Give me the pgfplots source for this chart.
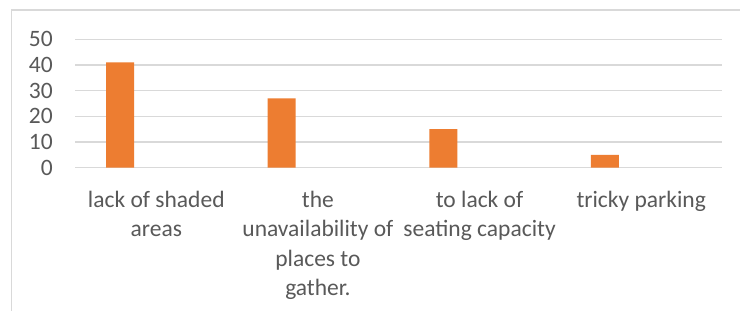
\documentclass[border=0pt]{standalone}
\usepackage{pgfplots}
\pgfplotsset{compat=1.18}
\usepackage{fontspec}
\setmainfont{Carlito}
\definecolor{barorange}{HTML}{ED7D31}
\definecolor{gridgray}{HTML}{D9D9D9}
\definecolor{txtgray}{HTML}{595959}
\begin{document}
\begin{tikzpicture}
\useasboundingbox (0,0) rectangle (740pt,311pt);
\fill[white] (0,0) rectangle (740pt,311pt);
\draw[gridgray, line width=1.5pt] (11.7pt,-5pt) -- (11.7pt,301pt) -- (745pt,301pt);
\begin{axis}[
  at={(75.5pt,143.3pt)}, anchor=south west,
  scale only axis,
  width=646.5pt, height=128.4pt,
  xmin=-0.5, xmax=3.5, ymin=0, ymax=50,
  axis line style={draw=none},
  ytick={0,10,20,30,40,50},
  xtick={0,1,2,3},
  xticklabels={{lack of shaded\\areas},{the\\unavailability of\\places to\\gather.},{to lack of\\seating capacity},{tricky parking}},
  major tick length=0pt,
  ymajorgrids,
  grid style={gridgray, line width=1.3pt},
  tick label style={font=\fontsize{23.5}{29.5}\selectfont, text=txtgray, inner sep=0pt},
  /pgf/number format/assume math mode=true,
  yticklabel style={anchor=east, xshift=-22.5pt},
  xticklabel style={anchor=north, align=center, yshift=-23pt},
  ybar, bar width=28pt, bar shift=-36.3pt,
  clip=false,
]
\addplot[fill=barorange, draw=none] coordinates {(0,41) (1,27) (2,15) (3,5)};
\end{axis}
\end{tikzpicture}
\end{document}
